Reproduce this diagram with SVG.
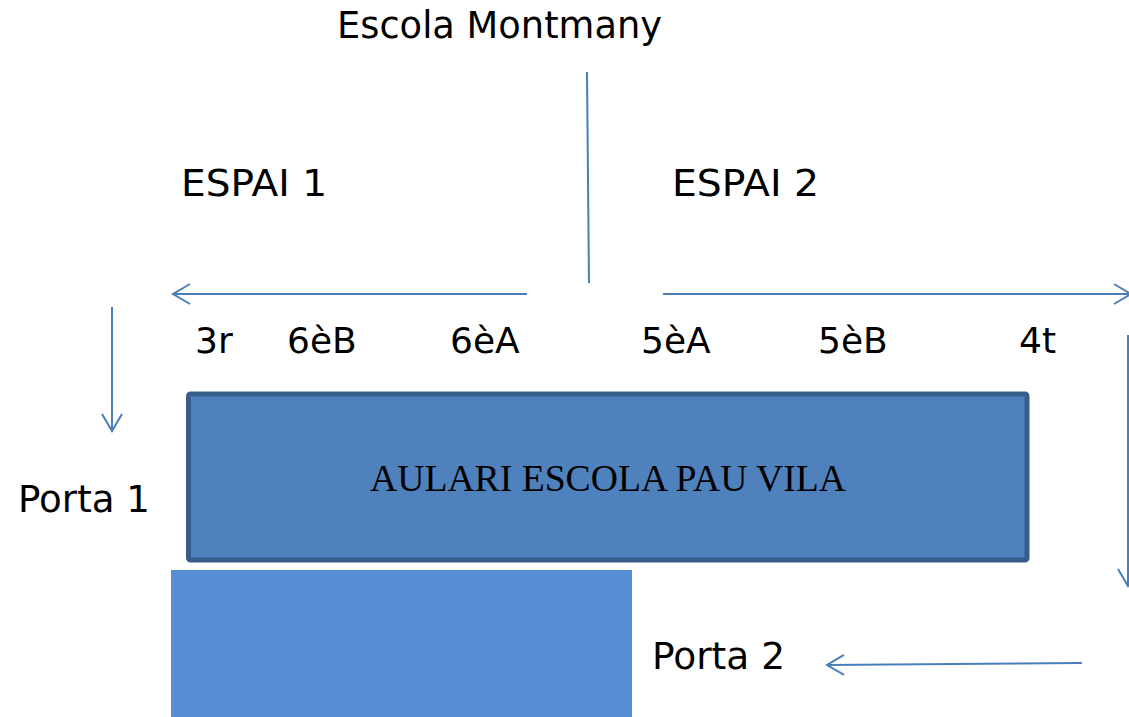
<svg xmlns="http://www.w3.org/2000/svg" width="1129" height="717" viewBox="0 0 1129 717">
<style>
.lbl{font-family:"DejaVu Sans",Verdana,sans-serif;font-size:36px;fill:#000}
.big{font-size:37px}
.ser{font-family:"Liberation Serif","Times New Roman",serif;font-size:37px;fill:#000}
.con{stroke:#4A7EBB;stroke-width:2;fill:none}
</style>
<defs>
<marker id="chev" markerUnits="userSpaceOnUse" markerWidth="26" markerHeight="26" viewBox="-22 -13 26 26" refX="0" refY="0" orient="auto">
<path d="M-17,-10 L0,0 L-17,10" fill="none" stroke="#4A7EBB" stroke-width="2"/>
</marker>
</defs>
<rect width="1129" height="717" fill="#fff"/>
<g id="title"><text class="lbl big" x="337" y="38" textLength="325" lengthAdjust="spacingAndGlyphs">Escola Montmany</text></g>
<g id="espai1"><text class="lbl big" x="181" y="196" textLength="146" lengthAdjust="spacingAndGlyphs">ESPAI 1</text></g>
<g id="espai2"><text class="lbl big" x="672" y="196" textLength="147" lengthAdjust="spacingAndGlyphs">ESPAI 2</text></g>
<g id="classes">
<text class="lbl" x="195" y="353">3r</text>
<text class="lbl" x="287" y="353">6èB</text>
<text class="lbl" x="450" y="353">6èA</text>
<text class="lbl" x="641" y="353">5èA</text>
<text class="lbl" x="818" y="353">5èB</text>
<text class="lbl" x="1019" y="353">4t</text>
</g>
<g id="aulari">
<rect x="188.5" y="394" width="838.5" height="166" rx="2" fill="#4F81BD" stroke="#385D8A" stroke-width="5"/>
<text class="ser" x="370" y="491" textLength="476" lengthAdjust="spacingAndGlyphs">AULARI ESCOLA PAU VILA</text>
</g>
<g id="pati"><rect x="171" y="570" width="461" height="147" fill="#558ED5"/></g>
<g id="porta1"><text class="lbl big" x="18" y="512" textLength="132" lengthAdjust="spacingAndGlyphs">Porta 1</text></g>
<g id="porta2"><text class="lbl big" x="652" y="669" textLength="133" lengthAdjust="spacingAndGlyphs">Porta 2</text></g>
<g id="connectors">
<path class="con" d="M587,72 L589,283"/>
<path class="con" d="M527,294 L173,294" marker-end="url(#chev)"/>
<path class="con" d="M663,294 L1131,294" marker-end="url(#chev)"/>
<path class="con" d="M112,307 L112,431" marker-end="url(#chev)"/>
<path class="con" d="M1128,335 L1128,586" marker-end="url(#chev)"/>
<path class="con" d="M1082,663 L827,665" marker-end="url(#chev)"/>
</g>
</svg>
